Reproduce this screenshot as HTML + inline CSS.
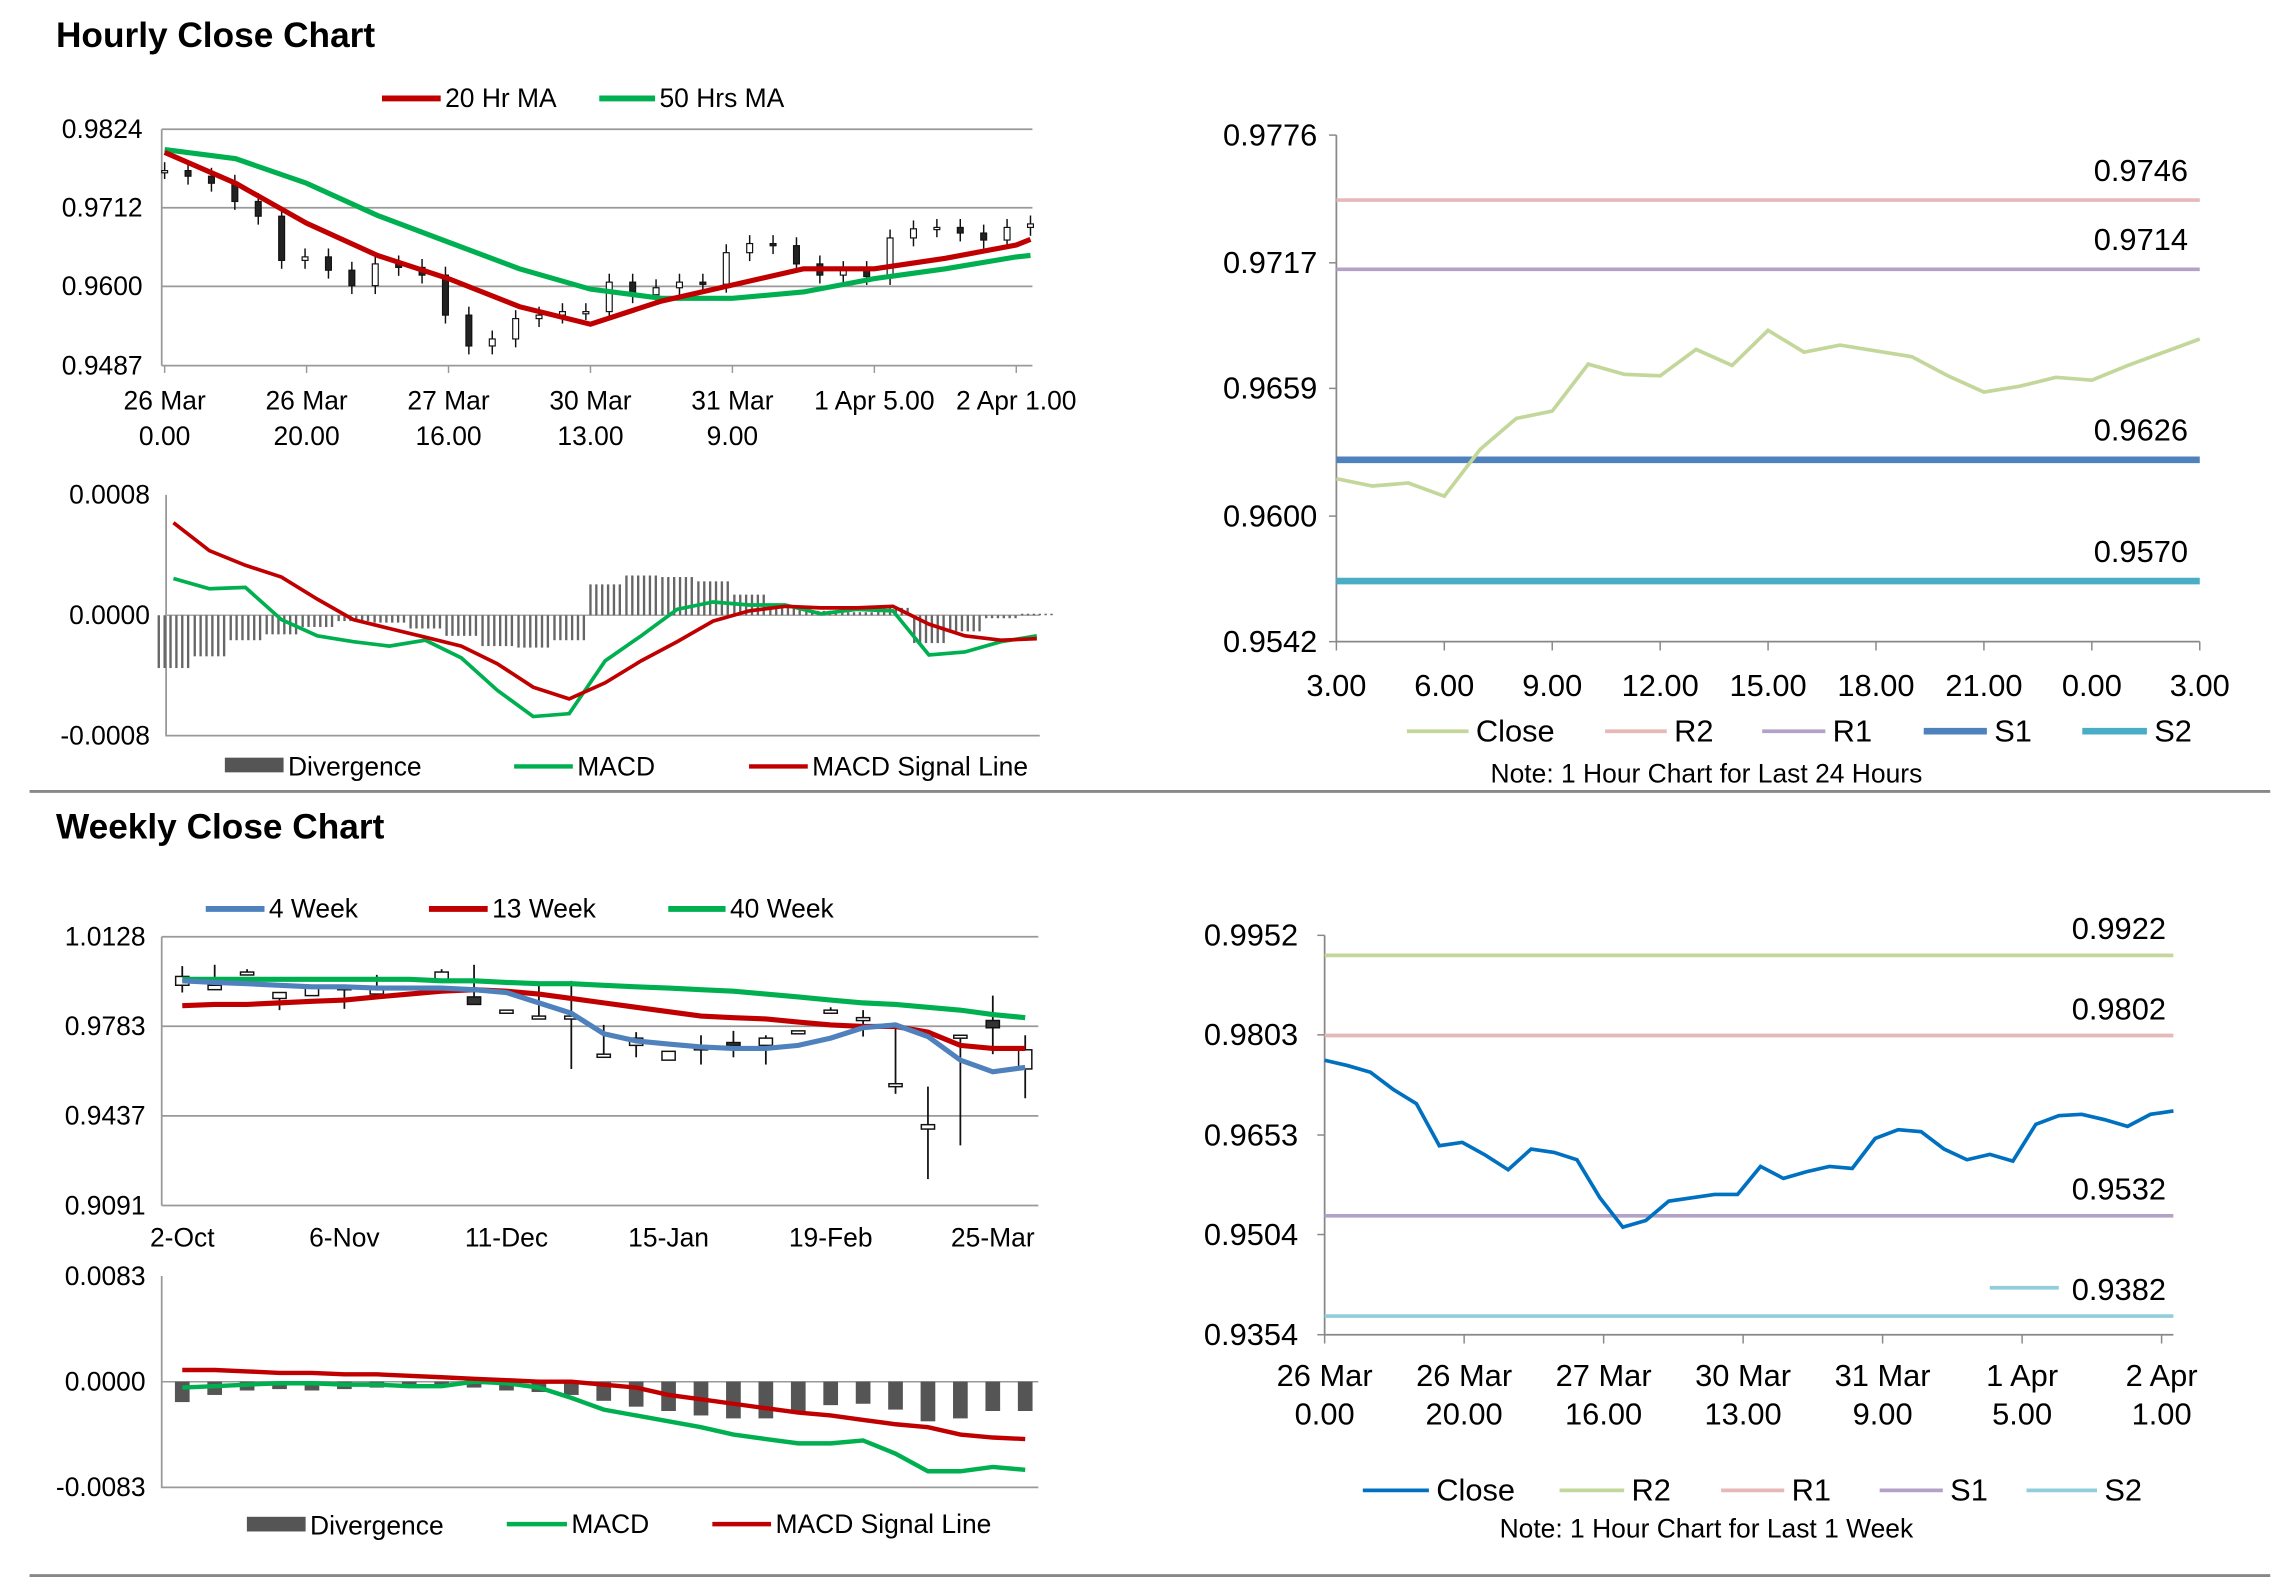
<!DOCTYPE html>
<html><head><meta charset="utf-8"><style>
html,body{margin:0;padding:0;background:#fff;}
svg{display:block;}
text{font-family:"Liberation Sans Narrow","Liberation Sans",Arial,sans-serif;fill:#000;}
.t{font-family:"Liberation Sans",Arial,sans-serif;font-weight:bold;font-size:24px;}
.ax{font-size:18px;}
.axr{font-size:21px;}
</style></head><body>
<svg id="root" width="2291" height="1577" viewBox="0 0 1560 1074" xmlns="http://www.w3.org/2000/svg">
<text class="t" x="38" y="32">Hourly Close Chart</text>
<text class="t" x="38" y="571">Weekly Close Chart</text>
<line x1="20" y1="539" x2="1546" y2="539" stroke="#888" stroke-width="2"/>
<line x1="20" y1="1073" x2="1546" y2="1073" stroke="#888" stroke-width="2"/>
<g id="g1"></g>
<g id="g2"></g>
<g id="g3"></g>
<g id="g4"></g>
<g id="g5"></g>
<g id="g6"></g>
</svg>
<script>
// ---- data ----
const weekClose = [0.9765,0.9757,0.9747,0.9721,0.9700,0.9637,0.9642,0.9623,0.9601,0.9632,0.9627,0.9616,0.9559,0.9515,0.9525,0.9554,0.9559,0.9564,0.9564,0.9606,0.9588,0.9598,0.9606,0.9603,0.9648,0.9661,0.9658,0.9632,0.9616,0.9624,0.9614,0.9669,0.9682,0.9684,0.9676,0.9666,0.9684,0.9689];
const maHours = [0,10,20,30,40,50,60,70,80,90,100,110,120,122];
const ma20 = [0.9791,0.9747,0.9690,0.9644,0.9611,0.9571,0.9546,0.9579,0.9602,0.9625,0.9625,0.9640,0.9659,0.9667];
const ma50 = [0.9795,0.9782,0.9747,0.9701,0.9663,0.9625,0.9596,0.9583,0.9583,0.9592,0.9611,0.9625,0.9642,0.9644];
const hourTicks = ["26 Mar|0.00","26 Mar|20.00","27 Mar|16.00","30 Mar|13.00","31 Mar|9.00","1 Apr 5.00|","2 Apr 1.00|"];
const hMacd = [2.44,1.76,1.85,-0.29,-1.37,-1.76,-2.05,-1.66,-2.83,-4.98,-6.73,-6.54,-3.03,-1.37,0.39,0.88,0.68,0.68,0.10,0.39,0.29,-2.64,-2.44,-1.76,-1.37];
const hSignal = [6.15,4.29,3.32,2.54,1.07,-0.29,-0.88,-1.46,-2.05,-3.22,-4.78,-5.56,-4.49,-3.03,-1.76,-0.39,0.29,0.59,0.49,0.49,0.59,-0.59,-1.37,-1.66,-1.56];
const hDiv = [-3.51,-2.73,-1.66,-1.27,-0.78,-0.39,-0.49,-0.88,-1.37,-2.05,-2.15,-1.66,2.05,2.64,2.54,2.25,1.37,0.49,0.29,0.2,0.49,-1.85,-1.07,-0.2,0.1];
const dayClose = [0.96173,0.96139,0.96153,0.96092,0.96309,0.96451,0.96485,0.96702,0.96655,0.96648,0.96770,0.96696,0.96858,0.96757,0.96790,0.96763,0.96736,0.96648,0.96573,0.96600,0.96641,0.96628,0.96696,0.96757,0.96818];
const dayTicks = ["3.00","6.00","9.00","12.00","15.00","18.00","21.00","0.00","3.00"];
const dayLevels = [0.9746,0.9714,0.9626,0.9570];
const wOpen  = [0.9941,0.9924,0.9981,0.9890,0.9901,0.9924,0.9907,0.9935,0.9964,0.9896,0.9833,0.9811,0.9811,0.9663,0.9709,0.9652,0.9692,0.9720,0.9709,0.9760,0.9833,0.9805,0.9550,0.9386,0.9737,0.9805,0.9618];
const wClose = [0.9975,0.9941,0.9992,0.9913,0.9935,0.9935,0.9935,0.9924,0.9992,0.9867,0.9845,0.9822,0.9822,0.9675,0.9737,0.9686,0.9703,0.9709,0.9737,0.9765,0.9845,0.9816,0.9561,0.9403,0.9748,0.9777,0.9692];
const wHigh  = [1.0015,1.0020,1.0003,0.9913,0.9935,0.9935,0.9981,0.9935,1.0003,1.0020,0.9845,0.9947,0.9958,0.9788,0.9760,0.9686,0.9748,0.9765,0.9748,0.9765,0.9856,0.9845,0.9777,0.9550,0.9743,0.9901,0.9748];
const wLow   = [0.9913,0.9924,0.9981,0.9845,0.9901,0.9850,0.9907,0.9924,0.9964,0.9867,0.9833,0.9811,0.9618,0.9663,0.9663,0.9652,0.9635,0.9663,0.9635,0.9760,0.9833,0.9743,0.9522,0.9193,0.9323,0.9675,0.9505];
const w4 = [0.9958,0.9952,0.9947,0.9941,0.9935,0.9935,0.9930,0.9930,0.9930,0.9924,0.9913,0.9873,0.9833,0.9754,0.9726,0.9714,0.9703,0.9697,0.9697,0.9709,0.9737,0.9777,0.9788,0.9743,0.9652,0.9607,0.9624];
const w13 = [0.9862,0.9867,0.9867,0.9873,0.9879,0.9884,0.9896,0.9907,0.9918,0.9924,0.9918,0.9907,0.9890,0.9873,0.9856,0.9839,0.9822,0.9816,0.9811,0.9799,0.9788,0.9782,0.9782,0.9760,0.9709,0.9697,0.9697];
const w40 = [0.9964,0.9964,0.9964,0.9964,0.9964,0.9964,0.9964,0.9964,0.9958,0.9958,0.9952,0.9947,0.9947,0.9941,0.9935,0.9930,0.9924,0.9918,0.9907,0.9896,0.9884,0.9873,0.9867,0.9856,0.9845,0.9828,0.9816];
const weekTicks = ["2-Oct","6-Nov","11-Dec","15-Jan","19-Feb","25-Mar"];
const wDiv = [-16,-10.4,-6.9,-5.8,-6.9,-5.8,-4.6,-3.5,-2.3,-4.6,-6.9,-8.1,-10.4,-15,-19.6,-23,-26.5,-28.8,-28.8,-24.2,-18.4,-17.3,-21.9,-31.1,-28.8,-23,-23];
const wMacd = [-4.6,-3.5,-2.3,-1.2,-1.2,-2.3,-2.3,-3.5,-3.5,0,-1.2,-4.6,-12.7,-21.9,-26.5,-31.1,-35.7,-41.5,-45,-48.4,-48.4,-46.1,-56.5,-70.3,-70.3,-66.9,-69.2];
const wSignal = [9.2,9.2,8.1,6.9,6.9,5.8,5.8,4.6,3.5,2.3,1.2,0,0,-2.3,-4.6,-10.4,-13.8,-17.3,-20.8,-24.2,-26.5,-30,-33.4,-35.7,-41.5,-43.8,-45];
const wkTicks = ["26 Mar|0.00","26 Mar|20.00","27 Mar|16.00","30 Mar|13.00","31 Mar|9.00","1 Apr|5.00","2 Apr|1.00"];
const wkLevels = [0.9922,0.9802,0.9532,0.9382];

// ---- helpers ----
const NS="http://www.w3.org/2000/svg";
function mk(parent,tag,attrs,txt){const e=document.createElementNS(NS,tag);for(const k in attrs)e.setAttribute(k,attrs[k]);if(txt!==undefined)e.textContent=txt;parent.appendChild(e);return e;}
function lin(d0,d1,r0,r1){return v=>r0+(v-d0)/(d1-d0)*(r1-r0);}
function pts(xs,ys){return xs.map((x,i)=>x.toFixed(2)+","+ys[i].toFixed(2)).join(" ");}
function tx(g,x,y,s,cls,anchor,name){const e=mk(g,"text",{x:x,y:y,class:cls,"text-anchor":anchor||"start"},s);


return e;}
function legendLine(g,x1,x2,y,color,w,label,name){
const l=mk(g,"line",{x1:x1,y1:y,x2:x2,y2:y,stroke:color,"stroke-width":w});


tx(g,x2+3,y+6,label,"ax","start",name+'-label');}

// ---- chart 1: hourly price ----
(function(){
const g=document.getElementById('g1');
const X=lin(0,120,112,692), Y=lin(0.9824,0.9487,88,249);
[0.9824,0.9712,0.9600,0.9487].forEach((v,i)=>{
const l=mk(g,"line",{x1:110,y1:Y(v),x2:703,y2:Y(v),stroke:"#999","stroke-width":1.2});


tx(g,97,Y(v)+6,v.toFixed(4),"ax","end","y-tick-label");});
const ax=mk(g,"line",{x1:110,y1:88,x2:110,y2:249,stroke:"#999","stroke-width":1.2});


hourTicks.forEach((s,i)=>{const x=X(i*20);const p=s.split("|");
const t=mk(g,"line",{x1:x,y1:249,x2:x,y2:254,stroke:"#999"});


tx(g,x,279,p[0],"ax","middle","x-tick-label");if(p[1])tx(g,x,303,p[1],"ax","middle","x-tick-label");});
const n=weekClose.length, step=122/(n-1);
weekClose.forEach((c,i)=>{const o=i?weekClose[i-1]:c;const x=X(i*step);
const hi=Math.max(o,c)+0.0012, lo=Math.min(o,c)-0.0012;
const w=mk(g,"line",{x1:x,y1:Y(hi),x2:x,y2:Y(lo),stroke:"#111","stroke-width":1});


const r=mk(g,"rect",{x:x-2,y:Y(Math.max(o,c)),width:4,height:Math.max(1.5,Math.abs(Y(o)-Y(c))),fill:c>=o?"#fff":"#222",stroke:"#111","stroke-width":0.8});

});
const m50=mk(g,"polyline",{points:pts(maHours.map(X),ma50.map(Y)),fill:"none",stroke:"#00b050","stroke-width":3.5});


const m20=mk(g,"polyline",{points:pts(maHours.map(X),ma20.map(Y)),fill:"none",stroke:"#c00000","stroke-width":3.5});


legendLine(g,260,300,67,"#c00000",4,"20 Hr MA","legend-ma20");
legendLine(g,408,446,67,"#00b050",4,"50 Hrs MA","legend-ma50");
})();

// ---- chart 2: hourly MACD ----
(function(){
const g=document.getElementById('g2');
const X=lin(0,24,118,706), Y=lin(8,-8,337,501);
[8,0,-8].forEach(v=>tx(g,102,Y(v)+6,(v/1e4).toFixed(4),"ax","end","y-tick-label"));
const a=mk(g,"polyline",{points:"113,337 113,501 708,501",fill:"none",stroke:"#999","stroke-width":1.2});


const z=mk(g,"line",{x1:113,y1:Y(0),x2:708,y2:Y(0),stroke:"#aaa","stroke-width":1});


hDiv.forEach((v,i)=>{const x=X(i);
for(let k=-10;k<=10;k+=4){
const b=mk(g,"line",{x1:x+k,y1:Y(0),x2:x+k,y2:Y(v),stroke:"#666","stroke-width":1.6});

}});
const xs=hMacd.map((v,i)=>X(i));
const m=mk(g,"polyline",{points:pts(xs,hMacd.map(Y)),fill:"none",stroke:"#00b050","stroke-width":2.5});


const s=mk(g,"polyline",{points:pts(xs,hSignal.map(Y)),fill:"none",stroke:"#c00000","stroke-width":2.5});


const r=mk(g,"rect",{x:153,y:516,width:40,height:10,fill:"#555"});


tx(g,196,528,"Divergence","ax","start","legend-divergence-label");
legendLine(g,350,390,522,"#00b050",3,"MACD","legend-macd");
legendLine(g,510,550,522,"#c00000",3,"MACD Signal Line","legend-signal");
})();

// ---- chart 3: 24h ----
(function(){
const g=document.getElementById('g3');
const X=lin(0,24,910,1498), Y=lin(0.9776,0.9542,92,437);
[0.9776,0.9717,0.9659,0.9600,0.9542].forEach(v=>{
tx(g,897,Y(v)+7,v.toFixed(4),"axr","end","y-tick-label");
const t=mk(g,"line",{x1:905,y1:Y(v),x2:910,y2:Y(v),stroke:"#888"});

});
const a=mk(g,"polyline",{points:"910,92 910,437 1498,437",fill:"none",stroke:"#888","stroke-width":1.2});


dayTicks.forEach((s,i)=>{const x=X(i*3);
const t=mk(g,"line",{x1:x,y1:437,x2:x,y2:443,stroke:"#888"});


tx(g,x,474,s,"axr","middle","x-tick-label");});
const cols=["#e6b8b8","#b3a2c7","#4f81bd","#4bacc6"], ws=[2.5,2.5,4.5,4.5], nm=["r2","r1","s1","s2"];
dayLevels.forEach((v,i)=>{
const l=mk(g,"line",{x1:910,y1:Y(v),x2:1498,y2:Y(v),stroke:cols[i],"stroke-width":ws[i]});


tx(g,1490,Y(v)-13,v.toFixed(4),"axr","end",nm[i]+'-value-label');});
const c=mk(g,"polyline",{points:pts(dayClose.map((v,i)=>X(i)),dayClose.map(Y)),fill:"none",stroke:"#c4d79b","stroke-width":2.5});


const L=[[958,1000,"#c4d79b",2.5,"Close"],[1093,1135,"#e6b8b8",2.5,"R2"],[1200,1243,"#b3a2c7",2.5,"R1"],[1310,1353,"#4f81bd",4.5,"S1"],[1418,1462,"#4bacc6",4.5,"S2"]];
L.forEach(d=>{const l=mk(g,"line",{x1:d[0],y1:498,x2:d[1],y2:498,stroke:d[2],"stroke-width":d[3]});


tx(g,d[1]+5,505,d[4],"axr","start","legend-label");});
tx(g,1162,533,"Note: 1 Hour Chart for Last 24 Hours","ax","middle","chart-note");
})();

// ---- chart 4: weekly price ----
(function(){
const g=document.getElementById('g4');
const X=lin(0,25,124,676), Y=lin(1.0128,0.9091,638,821);
[1.0128,0.9783,0.9437,0.9091].forEach(v=>{
const l=mk(g,"line",{x1:110,y1:Y(v),x2:707,y2:Y(v),stroke:"#999","stroke-width":1.2});


tx(g,99,Y(v)+6,v.toFixed(4),"ax","end","y-tick-label");});
const ax=mk(g,"line",{x1:110,y1:638,x2:110,y2:821,stroke:"#999","stroke-width":1.2});


weekTicks.forEach((s,i)=>{const x=X(i*5);tx(g,x,849,s,"ax","middle","x-tick-label");});
wOpen.forEach((o,i)=>{const c=wClose[i],x=X(i);
const w=mk(g,"line",{x1:x,y1:Y(wHigh[i]),x2:x,y2:Y(wLow[i]),stroke:"#111","stroke-width":1.2});


const r=mk(g,"rect",{x:x-4.5,y:Y(Math.max(o,c)),width:9,height:Math.max(2,Math.abs(Y(o)-Y(c))),fill:c>=o?"#fff":"#333",stroke:"#111","stroke-width":1});

});
const xs=w4.map((v,i)=>X(i));
[[w40,"#00b050","ma-40w-line"],[w13,"#c00000","ma-13w-line"],[w4,"#4f81bd","ma-4w-line"]].forEach(d=>{
const p=mk(g,"polyline",{points:pts(xs,d[0].map(Y)),fill:"none",stroke:d[1],"stroke-width":3.5});

});
legendLine(g,140,180,619,"#4f81bd",4,"4 Week","legend-4w");
legendLine(g,292,332,619,"#c00000",4,"13 Week","legend-13w");
legendLine(g,455,494,619,"#00b050",4,"40 Week","legend-40w");
})();

// ---- chart 5: weekly MACD ----
(function(){
const g=document.getElementById('g5');
const X=lin(0,25,124,676), Y=lin(83,-83,869,1013);
[83,0,-83].forEach(v=>tx(g,99,Y(v)+6,(v/1e4).toFixed(4),"ax","end","y-tick-label"));
const a=mk(g,"polyline",{points:"110,869 110,1013 707,1013",fill:"none",stroke:"#999","stroke-width":1.2});


const z=mk(g,"line",{x1:110,y1:Y(0),x2:707,y2:Y(0),stroke:"#999","stroke-width":1});


wDiv.forEach((v,i)=>{const b=mk(g,"rect",{x:X(i)-5,y:Y(0),width:10,height:Y(v)-Y(0),fill:"#555"});

});
const xs=wMacd.map((v,i)=>X(i));
const m=mk(g,"polyline",{points:pts(xs,wMacd.map(Y)),fill:"none",stroke:"#00b050","stroke-width":3});


const s=mk(g,"polyline",{points:pts(xs,wSignal.map(Y)),fill:"none",stroke:"#c00000","stroke-width":3});


const r=mk(g,"rect",{x:168,y:1033,width:40,height:10,fill:"#555"});


tx(g,211,1045,"Divergence","ax","start","legend-divergence-label");
legendLine(g,345,386,1038,"#00b050",3,"MACD","legend-macd");
legendLine(g,485,525,1038,"#c00000",3,"MACD Signal Line","legend-signal");
})();

// ---- chart 6: week hourly ----
(function(){
const g=document.getElementById('g6');
const X=lin(0,120,902,1472), Y=lin(0.9952,0.9354,637,909);
[0.9952,0.9803,0.9653,0.9504,0.9354].forEach(v=>{
tx(g,884,Y(v)+7,v.toFixed(4),"axr","end","y-tick-label");
const t=mk(g,"line",{x1:897,y1:Y(v),x2:902,y2:Y(v),stroke:"#888"});

});
const a=mk(g,"polyline",{points:"902,637 902,909 1480,909",fill:"none",stroke:"#888","stroke-width":1.2});


wkTicks.forEach((s,i)=>{const x=X(i*20);const p=s.split("|");
const t=mk(g,"line",{x1:x,y1:909,x2:x,y2:915,stroke:"#888"});


tx(g,x,944,p[0],"axr","middle","x-tick-label");tx(g,x,970,p[1],"axr","middle","x-tick-label");});
const cols=["#c4d79b","#e6b8b8","#b3a2c7","#92cddc"], nm=["r2","r1","s1","s2"];
wkLevels.forEach((v,i)=>{
const l=mk(g,"line",{x1:902,y1:Y(v),x2:1480,y2:Y(v),stroke:cols[i],"stroke-width":2.5});


tx(g,1475,Y(v)-11,v.toFixed(4),"axr","end",nm[i]+'-value-label');});
const sw=mk(g,"line",{x1:1355,y1:877,x2:1402,y2:877,stroke:"#92cddc","stroke-width":2.5});


const n=weekClose.length, step=121.7/(n-1);
const c=mk(g,"polyline",{points:pts(weekClose.map((v,i)=>X(i*step)),weekClose.map(Y)),fill:"none",stroke:"#0070c0","stroke-width":2.5});


const L=[[928,973,"#0070c0","Close"],[1062,1106,"#c4d79b","R2"],[1172,1215,"#e6b8b8","R1"],[1280,1323,"#b3a2c7","S1"],[1380,1428,"#92cddc","S2"]];
L.forEach(d=>{const l=mk(g,"line",{x1:d[0],y1:1015,x2:d[1],y2:1015,stroke:d[2],"stroke-width":2.5});


tx(g,d[1]+5,1022,d[3],"axr","start","legend-label");});
tx(g,1162,1047,"Note: 1 Hour Chart for Last 1 Week","ax","middle","chart-note");
})();
</script>
</body></html>
